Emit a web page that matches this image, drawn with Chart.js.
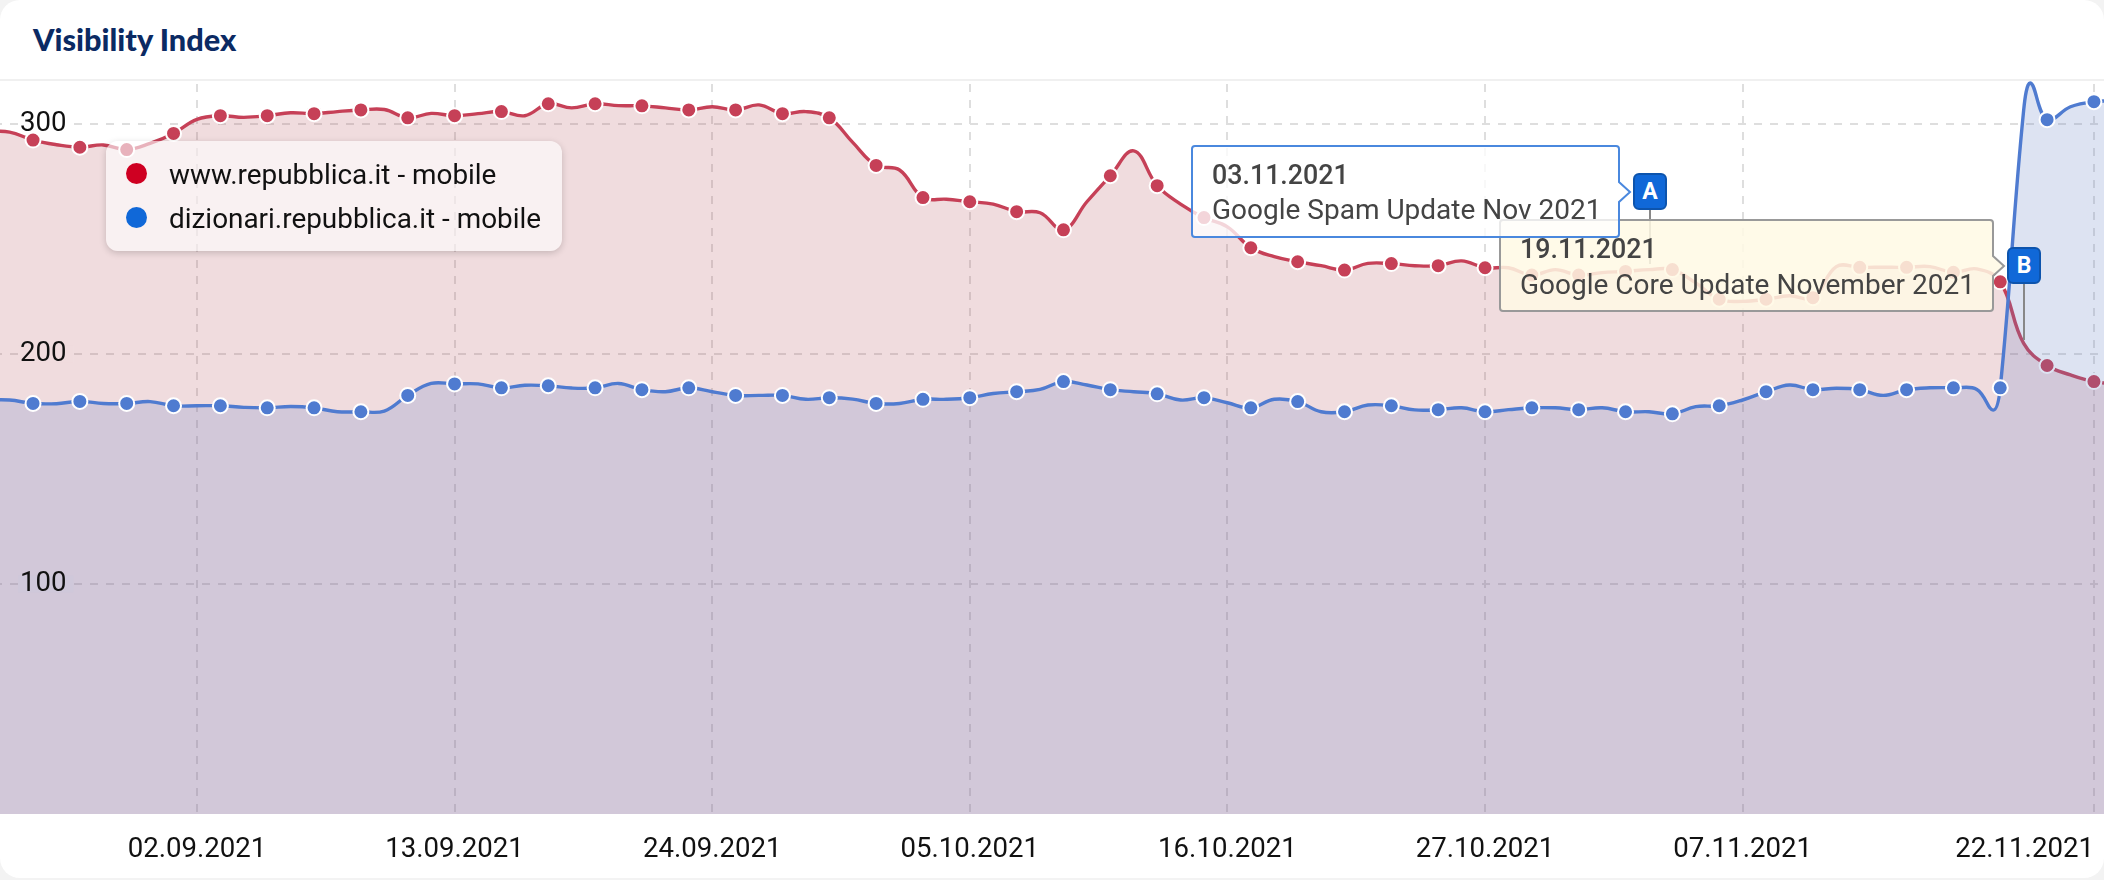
<!DOCTYPE html>
<html>
<head>
<meta charset="utf-8">
<title>Visibility Index</title>
<script src="https://cdn.jsdelivr.net/npm/chart.js@4"></script>
<style>
  html, body { margin: 0; padding: 0; background: #f3f3f3; }
  #card { position: absolute; left: 0; top: 0; width: 2104px; height: 878px; background: #fff; border-radius: 20px; overflow: hidden; font-family: Roboto, sans-serif; }
  #head { position: absolute; left: 0; top: 0; width: 100%; height: 79px; border-bottom: 2px solid #f0f0f0; }
  #head h1 { margin: 0; position: absolute; left: 33px; top: 22px; font: 900 30.7px/36px Lato, sans-serif; color: #0b2a63; }
  #myChart { position: absolute; left: 0; top: 0; }
  #legend { position: absolute; left: 106px; top: 141px; width: 456px; height: 110px; border-radius: 12px; background: rgba(255,255,255,.6); box-shadow: 0 2px 7px rgba(0,0,0,.18); }
  #legend div { position: absolute; left: 63px; font-size: 27.9px; line-height: 32px; color: #111; white-space: nowrap; }
  #legend i { position: absolute; left: -43px; top: 4px; width: 21px; height: 21px; border-radius: 50%; }
  #notes { position: absolute; left: 0; top: 0; }
  #notes text { font-family: Roboto, sans-serif; fill: #444; }
  #notes .d { font-size: 26.8px; font-weight: 500; }
  #notes .t { font-size: 28px; }
  .flag { position: absolute; width: 34px; height: 37px; box-sizing: border-box; background: #1068d8; border: 2px solid #0d54ad; border-radius: 6px; color: #fff; font: 700 23px/33px Roboto, sans-serif; text-align: center; }
</style>
</head>
<body>
<div id="card">
  <div id="head"><h1>Visibility Index</h1></div>
  <canvas id="myChart" width="2104" height="878"></canvas>
  <div id="legend"></div>
  <svg id="notes" width="2104" height="878">
    <line x1="1650" y1="208" x2="1650" y2="264" stroke="#888" stroke-width="2"/>
    <line x1="2024" y1="283" x2="2024" y2="340" stroke="#888" stroke-width="2"/>
    <path d="M1503 220 H1990 a3 3 0 0 1 3 3 V256 L2004 266 L1993 276 V308 a3 3 0 0 1 -3 3 H1503 a3 3 0 0 1 -3 -3 V223 a3 3 0 0 1 3 -3 Z" fill="rgba(255,249,228,.86)" stroke="#999" stroke-width="2"/>
    <text class="d" x="1520" y="258">19.11.2021</text>
    <text class="t" x="1520" y="294">Google Core Update November 2021</text>
    <path d="M1195 146 H1616 a3 3 0 0 1 3 3 V182 L1630 192 L1619 202 V234 a3 3 0 0 1 -3 3 H1195 a3 3 0 0 1 -3 -3 V149 a3 3 0 0 1 3 -3 Z" fill="rgba(255,255,255,.78)" stroke="#4a88de" stroke-width="2"/>
    <text class="d" x="1212" y="184">03.11.2021</text>
    <text class="t" x="1212" y="219">Google Spam Update Nov 2021</text>
  </svg>
  <div class="flag" style="left:1633px;top:173px">A</div>
  <div class="flag" style="left:2007px;top:247px">B</div>
</div>
<script>
// one value per day, first entry is 24.08.2021
var redValues = [296.7,296.5,293,291,289.9,290.9,288.9,291.6,295.9,302,303.6,302.9,303.6,304.9,304.5,305.4,306.1,306.3,302.7,304.6,
  303.6,304.5,305.4,303.6,308.8,307,308.8,308,307.9,307,306.1,307.5,306.1,308.3,304.5,305.4,302.7,292,282,280,
  268,267.3,266.2,265.2,261.9,261.4,254,266.2,277.5,288.3,273.2,265.2,259.3,255.3,246.2,242.3,240.1,238.4,236.5,239.4,
  239.3,238.4,238.4,240.5,237.5,237.5,234.3,236.7,234.3,235.4,235.9,236.7,236.7,230.9,223.8,222.9,223.8,225.3,224.5,238,
  237.7,237.7,237.7,238,235.5,237,231.4,204.6,195,190.9,188,187,186];
var blueValues = [180,180,178.5,178.4,179.4,178.5,178.5,179.3,177.5,177.5,177.5,176.8,176.6,177.2,176.6,174.9,174.9,175.2,182,187.2,
  187,187,185.3,186.4,186.2,185.2,185.3,187.2,184.5,183.6,185.3,183.6,182,182,182,180.3,181,180.4,178.5,178.5,
  180.3,180.3,181,182.8,183.6,184.6,188,186.5,184.5,183.6,182.7,180,181,178.8,176.6,180.3,179.3,174.9,174.9,177.8,
  177.5,175.7,175.8,176.6,174.9,175.8,176.6,176.6,175.8,176.6,174.9,174.9,174,177.1,177.5,180,183.6,186.5,184.5,185.1,
  184.5,182,184.5,185.3,185.3,184.6,185.3,306,301.9,307.5,309.7,310,310];
// the dip and the peak around the jump fall between two days
var blueExtraDays = [85.7,87.3];
var blueExtraValues = [175.6,317.8];

var tickDays = [0.59,9,20,31,42,53,64,75,90];
var tickLabels = ["","02.09.2021","13.09.2021","24.09.2021","05.10.2021","16.10.2021","27.10.2021","07.11.2021","22.11.2021"];
var yTicks = [100,200,300];
var seriesNames = ["www.repubblica.it - mobile","dizionari.repubblica.it - mobile"];
var legendColors = ["#cf0022","#1068d8"];
var labelBacks = {100:"#cfc8da",200:"#f0dcde",300:"#ffffff"};

var legend = document.getElementById("legend");
seriesNames.forEach(function(name, i) {
  var row = document.createElement("div");
  row.style.top = (18 + i * 44) + "px";
  row.innerHTML = '<i style="background:' + legendColors[i] + '"></i>' + name;
  legend.appendChild(row);
});

var redPoints = redValues.map(function(y, i) { return {x: i, y: y}; });
var bluePoints = blueValues.map(function(y, i) { return {x: i, y: y}; });
blueExtraDays.forEach(function(x, i) { bluePoints.push({x: x, y: blueExtraValues[i]}); });
bluePoints.sort(function(a, b) { return a.x - b.x; });

function markerRadius(ctx) {
  return ctx.raw && ctx.raw.x % 2 === 0 ? 7.5 : 0;
}
function markerBorder(ctx) {
  return ctx.raw && ctx.raw.x % 2 === 0 ? 2 : 0;
}

new Chart("myChart", {
  type: "line",
  data: {
    datasets: [{
      label: seriesNames[1],
      data: bluePoints,
      order: 1,
      borderColor: "#4f7bd0",
      backgroundColor: "rgba(100,128,196,.22)",
      pointBackgroundColor: "#4f7bd0",
      pointBorderColor: "#fff",
      borderWidth: 3.4,
      pointRadius: markerRadius,
      pointBorderWidth: markerBorder,
      tension: 0.4,
      fill: "origin"
    }, {
      label: seriesNames[0],
      data: redPoints,
      order: 2,
      borderColor: "#c64057",
      backgroundColor: "rgba(172,62,72,.18)",
      pointBackgroundColor: "#c64057",
      pointBorderColor: "#fff",
      borderWidth: 3.4,
      pointRadius: markerRadius,
      pointBorderWidth: markerBorder,
      tension: 0.4,
      fill: "origin"
    }]
  },
  options: {
    responsive: false,
    animation: false,
    devicePixelRatio: 1,
    events: [],
    layout: {autoPadding: false, padding: {top: 80}},
    plugins: {legend: {display: false}, tooltip: {enabled: false}},
    scales: {
      x: {
        type: "linear",
        min: 0.59,
        max: 90.43,
        afterBuildTicks: function(axis) {
          axis.ticks = tickDays.map(function(v) { return {value: v}; });
        },
        afterFit: function(axis) {
          axis.height = 64;
          axis.paddingLeft = 0;
          axis.paddingRight = 0;
        },
        grid: {
          color: function(ctx) { return ctx.index === 0 ? "transparent" : "#dedede"; },
          lineWidth: 2,
          drawTicks: false
        },
        border: {display: false, dash: [8, 8], dashOffset: 12},
        ticks: {
          autoSkip: false,
          maxRotation: 0,
          align: "inner",
          padding: 20,
          color: "#111",
          font: {family: "Roboto", size: 27.6},
          callback: function(value, index) { return tickLabels[index]; }
        }
      },
      y: {
        min: 0,
        max: 319.13,
        afterBuildTicks: function(axis) {
          axis.ticks = yTicks.map(function(v) { return {value: v}; });
        },
        afterFit: function(axis) { axis.width = 0; },
        grid: {color: "#dedede", lineWidth: 2, drawTicks: false},
        border: {display: false, dash: [8, 8], dashOffset: 6},
        ticks: {
          mirror: true,
          padding: 20,
          z: 1,
          color: "#111",
          font: {family: "Roboto", size: 27.6},
          showLabelBackdrop: true,
          backdropColor: function(ctx) { return labelBacks[ctx.tick.value]; },
          backdropPadding: {top: -8, bottom: -8, left: 2, right: 7}
        }
      }
    }
  }
});
</script>
</body>
</html>
